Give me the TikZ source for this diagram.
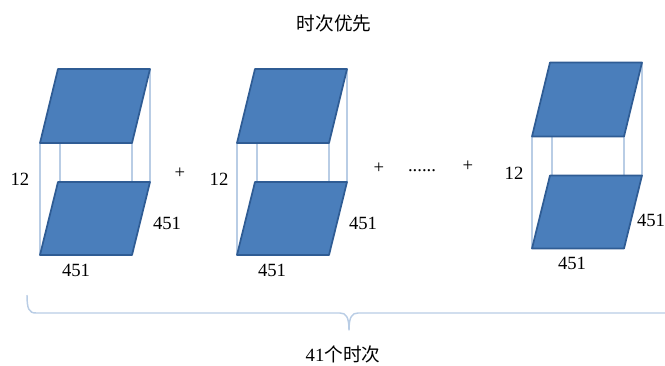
\documentclass[tikz,border=0pt]{standalone}
\usepackage{fontspec}
\setmainfont{Liberation Serif}
\newfontfamily\cjk{Noto Sans CJK SC}
\usepackage{xcolor}
\usetikzlibrary{calc}
\definecolor{panelblue}{HTML}{4A7EBB}
\definecolor{paneledge}{HTML}{2F5C94}
\definecolor{guideblue}{HTML}{B9CDE5}

\begin{document}
\begin{tikzpicture}[x=0.75pt,y=-0.75pt,line join=round]
\tikzstyle{panel}=[draw=paneledge, fill=panelblue, line width=1.3pt]
\tikzstyle{guide}=[draw=guideblue, line width=1.1pt]
\tikzstyle{lbl}=[font=\fontsize{14}{16}\selectfont, inner sep=0pt]
\useasboundingbox (0,0) rectangle (665,365);
% three stacked pairs
\foreach \n/\dx/\dy in {a/0/0,b/197/0,c/492/-6.5} {
  \begin{scope}[shift={(\dx,\dy)}]
  \coordinate (\n tl) at (40,143);
  \coordinate (\n tr) at (132,143);
  \coordinate (\n tR) at (150,69);
  \coordinate (\n tL) at (58,69);
  \coordinate (\n bl) at (40,255);
  \coordinate (\n br) at (132,255);
  \coordinate (\n bR) at (150,182);
  \coordinate (\n bL) at (58,182);
  \end{scope}
  \draw[guide] (\n tl) -- (\n bl);
  \draw[guide] (\n tR) -- (\n bR);
  \draw[guide] ($(\n tl)+(20,0)$) -- ($(\n bL)+(2,0)$);
  \draw[guide] (\n tr) -- ($(\n bR)+(-18,0)$);
  \draw[panel] (\n tl) -- (\n tr) -- (\n tR) -- (\n tL) -- cycle;
  \draw[panel] (\n bl) -- (\n br) -- (\n bR) -- (\n bL) -- cycle;
}
\node[lbl] (title) at (334,23) {\cjk 时次优先};
\node[lbl] (hA) at (20,179) {12};
\node[lbl] (hB) at (219,179) {12};
\node[lbl] (hC) at (514,173) {12};
\node[lbl] (dA) at (167,223) {451};
\node[lbl] (dB) at (363,223) {451};
\node[lbl] (dC) at (651,220) {451};
\node[lbl] (wA) at (76,270) {451};
\node[lbl] (wB) at (272,270) {451};
\node[lbl] (wC) at (572,263) {451};
\node[lbl] (plusA) at (180,173) {+};
\node[lbl] (plusB) at (379,168) {+};
\node[lbl] (dots) at (422,171) {......};
\node[lbl] (plusC) at (468,166) {+};
\node[lbl] (total) at (343,354.5) {41{\cjk 个时次}};
% brace
\coordinate (braceL) at (27,295);
\coordinate (braceT) at (349,330);
\coordinate (braceR) at (665,313);
\draw[guide] (braceL) .. controls (27,309) and (29,313) .. (36,313) -- (340,313)
  .. controls (346,313) and (349,317) .. (braceT)
  .. controls (349,317) and (352,313) .. (358,313) -- (braceR);
\end{tikzpicture}
\end{document}
